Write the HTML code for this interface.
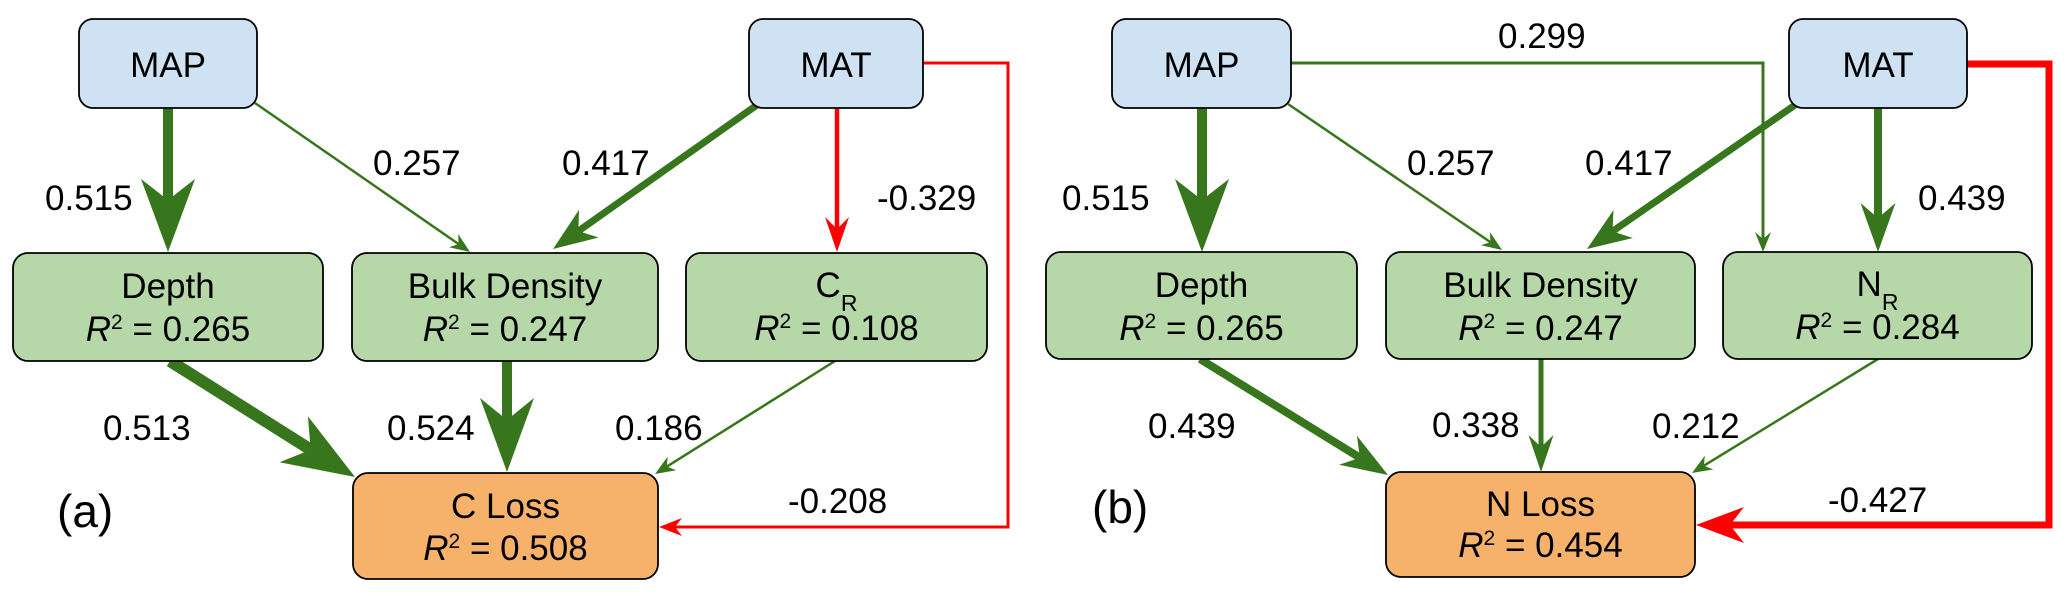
<!DOCTYPE html>
<html>
<head>
<meta charset="utf-8">
<style>
  html, body { margin: 0; padding: 0; background: #ffffff; }
  svg { display: block; }
  text { font-family: "Liberation Sans", Arial, sans-serif; fill: #000; }
</style>
</head>
<body>
<svg width="2067" height="599" viewBox="0 0 2067 599" xmlns="http://www.w3.org/2000/svg">
  <rect x="0" y="0" width="2067" height="599" fill="#ffffff"/>

  <!-- ================= CONNECTOR LINES ================= -->
  <g fill="none" stroke-linecap="butt" stroke-linejoin="miter">
    <!-- Panel (a) -->
    <line x1="168" y1="108" x2="168" y2="200" stroke="#38761D" stroke-width="10"/>
    <line x1="255" y1="103" x2="458.5" y2="244" stroke="#38761D" stroke-width="2.5"/>
    <line x1="757" y1="105" x2="578.3" y2="231.1" stroke="#38761D" stroke-width="7"/>
    <line x1="837" y1="108" x2="837" y2="229" stroke="#FF0000" stroke-width="4.5"/>
    <path d="M923,63 H1008 V527 H675" stroke="#FF0000" stroke-width="3"/>
    <line x1="170" y1="361" x2="310.7" y2="449.7" stroke="#38761D" stroke-width="12"/>
    <line x1="507" y1="361" x2="507" y2="420" stroke="#38761D" stroke-width="10"/>
    <line x1="835" y1="361" x2="666.9" y2="466.6" stroke="#38761D" stroke-width="2.5"/>

    <!-- Panel (b) -->
    <line x1="1202" y1="108" x2="1202" y2="200" stroke="#38761D" stroke-width="10"/>
    <line x1="1288" y1="104" x2="1490.4" y2="242.1" stroke="#38761D" stroke-width="2.5"/>
    <path d="M1291,63 H1763 V239" stroke="#38761D" stroke-width="3"/>
    <line x1="1795" y1="105" x2="1612.5" y2="231.4" stroke="#38761D" stroke-width="7"/>
    <line x1="1878" y1="108" x2="1878" y2="218" stroke="#38761D" stroke-width="8"/>
    <path d="M1967,64 H2049 V525 H1730" stroke="#FF0000" stroke-width="7"/>
    <line x1="1200" y1="359" x2="1359.9" y2="457.7" stroke="#38761D" stroke-width="8"/>
    <line x1="1541" y1="359" x2="1541" y2="447" stroke="#38761D" stroke-width="5"/>
    <line x1="1878" y1="359" x2="1703.9" y2="465.7" stroke="#38761D" stroke-width="2.5"/>
  </g>

  <!-- ================= BOXES ================= -->
  <g stroke="#000" stroke-width="1.8">
    <!-- Panel (a) -->
    <rect x="79" y="19" width="178" height="89" rx="14" ry="14" fill="#CFE2F3"/>
    <rect x="749" y="19" width="174" height="89" rx="14" ry="14" fill="#CFE2F3"/>
    <rect x="13" y="253" width="310" height="108" rx="15" ry="15" fill="#B6D7A8"/>
    <rect x="352" y="253" width="306" height="108" rx="15" ry="15" fill="#B6D7A8"/>
    <rect x="686" y="253" width="301" height="108" rx="15" ry="15" fill="#B6D7A8"/>
    <rect x="353" y="473" width="305" height="106" rx="15" ry="15" fill="#F6B26B"/>

    <!-- Panel (b) -->
    <rect x="1112" y="19" width="179" height="89" rx="14" ry="14" fill="#CFE2F3"/>
    <rect x="1789" y="19" width="178" height="89" rx="14" ry="14" fill="#CFE2F3"/>
    <rect x="1046" y="252" width="311" height="107" rx="15" ry="15" fill="#B6D7A8"/>
    <rect x="1386" y="252" width="309" height="107" rx="15" ry="15" fill="#B6D7A8"/>
    <rect x="1723" y="252" width="309" height="107" rx="15" ry="15" fill="#B6D7A8"/>
    <rect x="1386" y="472" width="309" height="105" rx="15" ry="15" fill="#F6B26B"/>
  </g>

  <!-- ================= ARROWHEADS ================= -->
  <g stroke="none">
    <!-- Panel (a) -->
    <polygon fill="#38761D" points="168,252 141,179 168,200 195,179"/>
    <polygon fill="#38761D" points="470,252 449.0,247.2 458.5,244.0 458.2,234.0"/>
    <polygon fill="#38761D" points="553,249 579.1,209.7 578.3,231.1 598.7,237.5"/>
    <polygon fill="#FF0000" points="837,252 825,217 837,229 849,217"/>
    <polygon fill="#FF0000" points="659,527 682,518 675,527 682,536"/>
    <polygon fill="#38761D" points="355,477 307.9,416.2 310.7,449.7 279.5,462.2"/>
    <polygon fill="#38761D" points="507,472 480,398 507,420 534,398"/>
    <polygon fill="#38761D" points="655,474 667.6,456.6 666.9,466.6 676.2,470.2"/>

    <!-- Panel (b) -->
    <polygon fill="#38761D" points="1202,252 1175,179 1202,200 1229,179"/>
    <polygon fill="#38761D" points="1502,250 1481.0,245.3 1490.4,242.1 1490.0,232.1"/>
    <polygon fill="#38761D" points="1763,252 1755,232 1763,239 1771,232"/>
    <polygon fill="#38761D" points="1587,249 1613.5,210.0 1612.5,231.4 1632.9,238.0"/>
    <polygon fill="#38761D" points="1878,252 1860.5,203 1878,218 1895.5,203"/>
    <polygon fill="#FF0000" points="1696,525 1744,507 1730,525 1744,543"/>
    <polygon fill="#38761D" points="1388,475 1356.9,435.8 1359.9,457.7 1339.1,464.8"/>
    <polygon fill="#38761D" points="1541,472 1528.5,435 1541,447 1553.5,435"/>
    <polygon fill="#38761D" points="1692,473 1704.8,455.8 1703.9,465.7 1713.2,469.4"/>
  </g>

  <!-- ================= BOX TEXT ================= -->
  <g font-size="35" text-anchor="middle">
    <!-- Panel (a) -->
    <text x="168" y="77">MAP</text>
    <text x="836" y="77">MAT</text>

    <text x="168" y="298">Depth</text>
    <text x="168" y="341"><tspan font-style="italic">R</tspan><tspan font-size="21" dy="-12">2</tspan><tspan dy="12"> = 0.265</tspan></text>

    <text x="505" y="298">Bulk Density</text>
    <text x="505" y="341"><tspan font-style="italic">R</tspan><tspan font-size="21" dy="-12">2</tspan><tspan dy="12"> = 0.247</tspan></text>

    <text x="836.5" y="297">C<tspan font-size="23" dy="14">R</tspan></text>
    <text x="836.5" y="340"><tspan font-style="italic">R</tspan><tspan font-size="21" dy="-12">2</tspan><tspan dy="12"> = 0.108</tspan></text>

    <text x="505.5" y="518">C Loss</text>
    <text x="505.5" y="560"><tspan font-style="italic">R</tspan><tspan font-size="21" dy="-12">2</tspan><tspan dy="12"> = 0.508</tspan></text>

    <!-- Panel (b) -->
    <text x="1201.5" y="77">MAP</text>
    <text x="1878" y="77">MAT</text>

    <text x="1201.5" y="297">Depth</text>
    <text x="1201.5" y="340"><tspan font-style="italic">R</tspan><tspan font-size="21" dy="-12">2</tspan><tspan dy="12"> = 0.265</tspan></text>

    <text x="1540.5" y="297">Bulk Density</text>
    <text x="1540.5" y="340"><tspan font-style="italic">R</tspan><tspan font-size="21" dy="-12">2</tspan><tspan dy="12"> = 0.247</tspan></text>

    <text x="1877.5" y="296">N<tspan font-size="23" dy="14">R</tspan></text>
    <text x="1877.5" y="339"><tspan font-style="italic">R</tspan><tspan font-size="21" dy="-12">2</tspan><tspan dy="12"> = 0.284</tspan></text>

    <text x="1540.5" y="516">N Loss</text>
    <text x="1540.5" y="557"><tspan font-style="italic">R</tspan><tspan font-size="21" dy="-12">2</tspan><tspan dy="12"> = 0.454</tspan></text>
  </g>

  <!-- ================= EDGE LABELS ================= -->
  <g font-size="35">
    <!-- Panel (a) -->
    <text x="45" y="210">0.515</text>
    <text x="373" y="175">0.257</text>
    <text x="562" y="175">0.417</text>
    <text x="877" y="210">-0.329</text>
    <text x="103" y="440">0.513</text>
    <text x="387" y="440">0.524</text>
    <text x="615" y="440">0.186</text>
    <text x="788" y="513">-0.208</text>

    <!-- Panel (b) -->
    <text x="1498" y="48">0.299</text>
    <text x="1062" y="210">0.515</text>
    <text x="1407" y="175">0.257</text>
    <text x="1585" y="175">0.417</text>
    <text x="1918" y="210">0.439</text>
    <text x="1148" y="438">0.439</text>
    <text x="1432" y="437">0.338</text>
    <text x="1652" y="438">0.212</text>
    <text x="1828" y="512">-0.427</text>
  </g>

  <!-- Panel letters -->
  <g font-size="46">
    <text x="57" y="527">(a)</text>
    <text x="1092" y="523">(b)</text>
  </g>
</svg>
</body>
</html>
